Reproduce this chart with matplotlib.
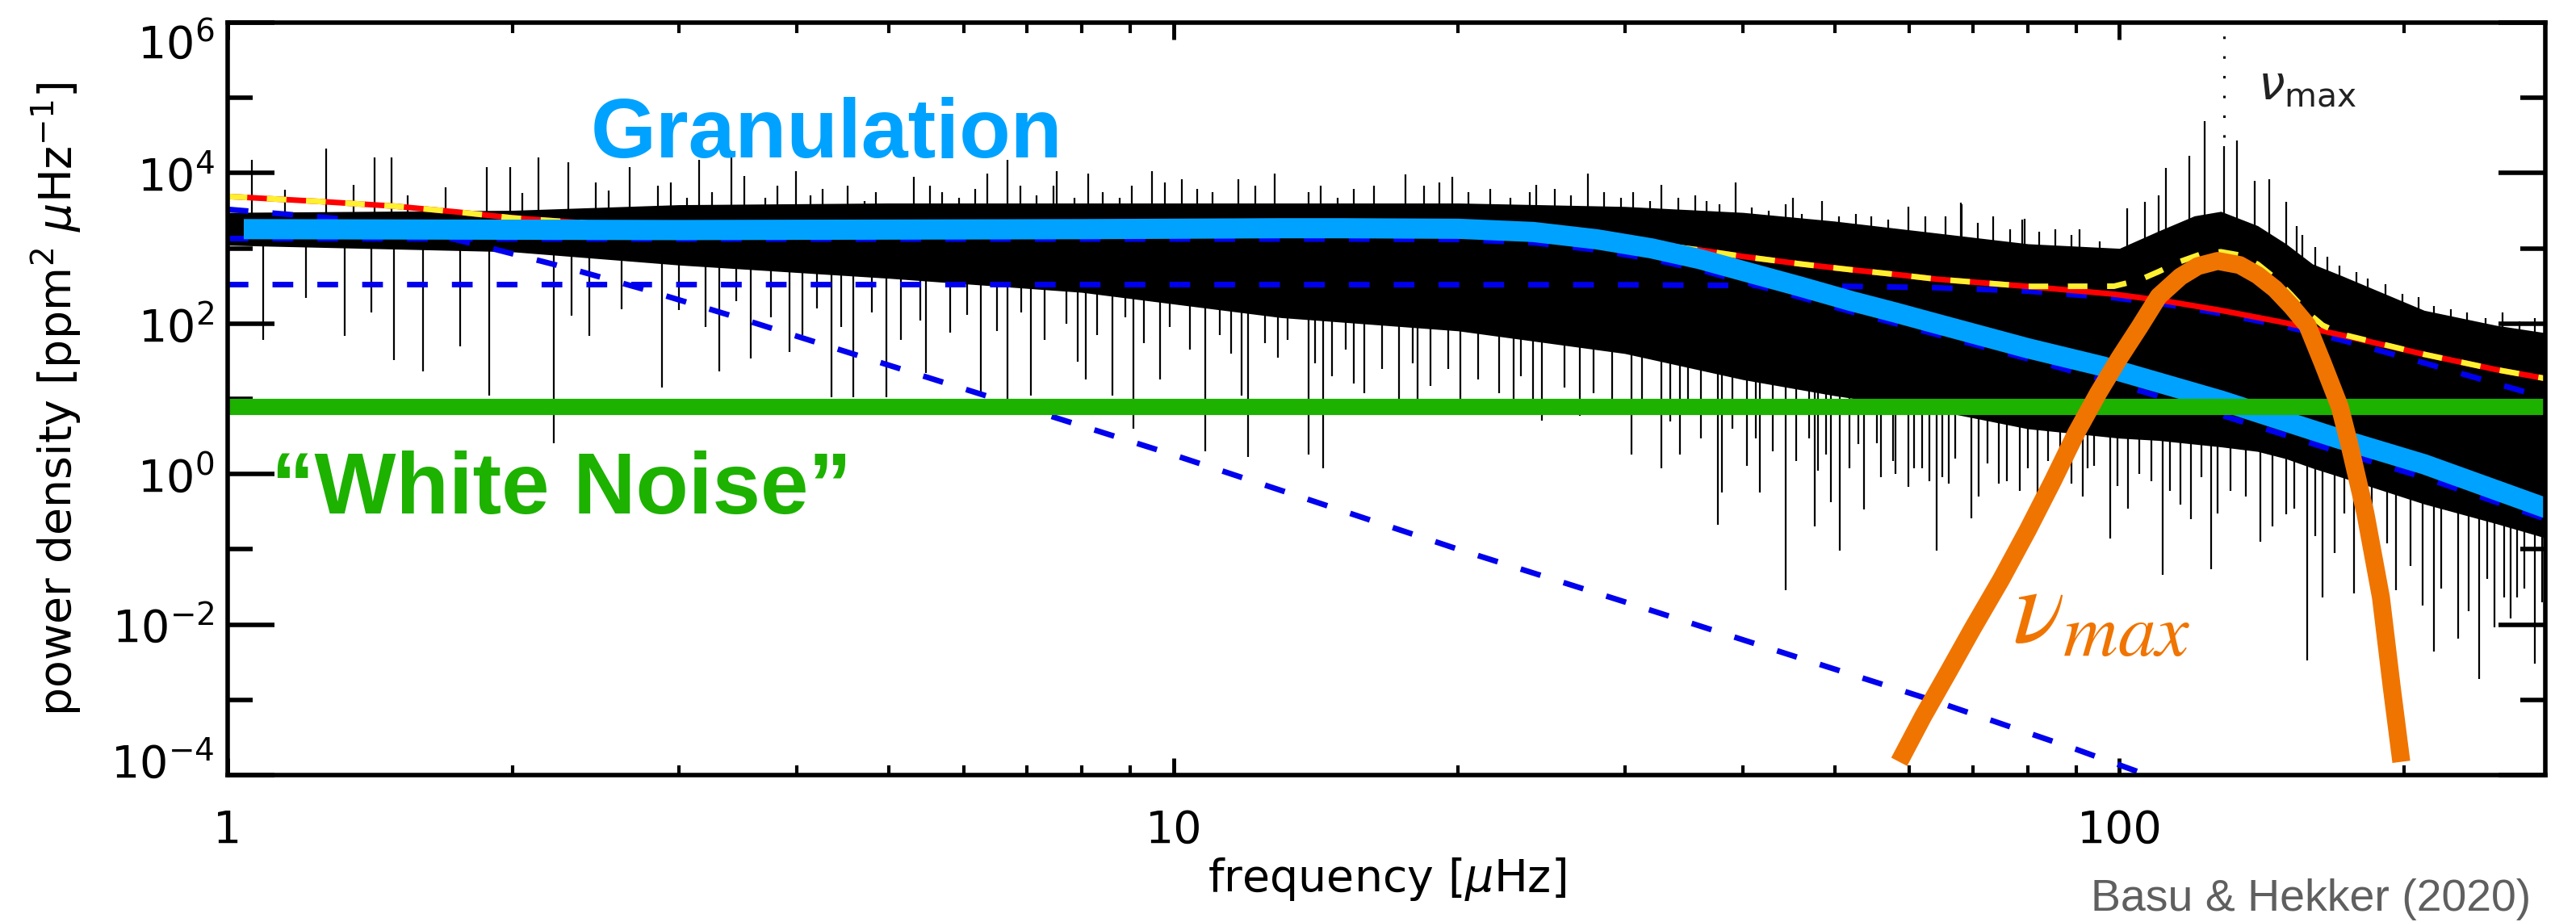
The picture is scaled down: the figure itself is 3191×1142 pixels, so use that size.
import numpy as np
import matplotlib
matplotlib.use("Agg")
import matplotlib.pyplot as plt
import matplotlib.transforms as mtransforms
from matplotlib.ticker import FixedLocator, FixedFormatter, NullFormatter

plt.rcParams['font.family'] = ['DejaVu Sans']
plt.rcParams['mathtext.fontset'] = 'dejavusans'

# ---------------- power spectrum (dense part + individual spikes) ----------------
band_nu = [1.0, 2.0, 3.0, 5.0, 8.0, 13, 20, 30, 40, 50, 64, 80, 100, 110, 120, 128, 140, 150, 160, 172, 210,
           250, 283]
band_top = [3000, 3200, 3800, 4000, 4000, 4000, 4000, 3600, 3000, 2300, 1600, 1150, 1000, 1700, 2700, 3100,
            2000, 1150, 620, 430, 150, 95, 75]
band_bot = [1100, 900, 600, 400, 260, 120, 80, 40, 18, 11, 7, 4.0, 3, 2.8, 2.5, 2.3, 2.0, 1.6, 1.2, 0.9, 0.4,
            0.22, 0.14]

down_nu = [1.09, 1.21, 1.33, 1.42, 1.50, 1.61, 1.76, 1.89, 2.21, 2.31, 2.41, 2.61,
           2.88, 3.31, 3.57, 3.93, 4.35, 4.59, 4.97, 5.47, 6.26, 6.68, 7.06, 7.92, 8.08, 8.62, 9.07, 9.68,
           10.8, 11.8, 12.0, 13.2,
           13.9, 14.4, 15.5, 18.1, 22.9, 24.5, 30.5, 32.8, 34.3, 37.6, 38.0, 40.4, 41.7, 44.4, 47.6, 48.0,
           49.5, 50.6, 53.7, 55.4, 58.0, 59.8, 60.7, 61.8, 64.1,
           66, 69.8, 74.6, 78.4, 89, 92.6, 97.7, 105, 111, 116, 125, 131, 141, 150, 158, 164, 177, 196,
           209, 215, 228, 240, 249, 255, 263, 275]
down_p = [60, 220, 69, 140, 33, 23, 50, 11, 2.6, 126, 69, 155,
          14, 23, 34, 42, 10.5, 10.5, 10.5, 22, 12.6, 10, 11, 31, 18, 11, 4.0, 18,
          2.0, 11, 1.7, 60,
          1.8, 1.2, 16, 10, 10, 5.1, 1.8, 1.2, 1.8, 0.21, 0.57, 1.3, 0.57, 0.029, 0.2, 1.1,
          0.42, 0.095, 0.34, 2.6, 1.0, 0.67, 1.2, 1.2, 0.095,
          0.74, 0.26, 0.74, 0.6, 0.74, 1.2, 0.14, 1.0, 0.046, 0.39, 0.055, 0.6, 0.126, 0.29, 0.0033, 0.023,
          0.026, 0.029,
          0.018, 0.0044, 0.0065, 0.0019, 0.0093, 0.023, 0.023, 0.003]

# shorter dips along the lower edge of the dense part
dip_nu = [3.0, 3.2, 3.45, 3.75, 4.05, 4.2, 4.45, 4.8, 5.15, 5.4, 5.8, 6.05, 6.5, 6.9, 7.3, 7.7, 8.3, 8.9, 9.3,
          9.9, 10.4, 11.2, 11.5, 12.5, 12.9,
          14.1, 14.7, 15.2, 15.9, 16.6, 17.3, 17.9, 18.7, 19.5, 20.1, 21.0, 22.1, 23.3, 24.0, 25.9, 26.9, 27.8,
          29.1, 31.3, 33.5, 35.0, 36.1, 39.0, 41.3, 43.0, 45.5, 47.0, 49.0, 51.8, 53.0, 56.0, 57.6, 63.0,
          65, 67, 71, 72.5, 76, 80, 82, 84, 86.5, 91.5, 94, 99.5, 102, 108, 113, 119, 122, 127, 136, 145, 153,
          161, 169, 173, 185, 192, 203, 219, 234, 245, 259, 268, 280]
dip_p = [150, 90, 200, 120, 70, 160, 90, 140, 60, 110, 75, 130, 80, 140, 60, 100, 70, 120, 55,
         90, 45, 70, 40, 55, 35,
         30, 20, 45, 12, 25, 9, 30, 15, 25, 10, 18, 12, 20, 8, 14, 6, 12,
         7, 9, 5, 7, 3, 4, 3, 2, 1.5, 3, 1.8, 1.2, 2.5, 0.9, 1.5, 0.8,
         0.9, 1.6, 0.5, 1.4, 0.8, 1.2, 0.5, 1.5, 0.9, 0.5, 1.3, 0.7, 0.35, 0.8, 0.6, 0.25, 0.9, 0.3, 0.5, 0.2,
         0.35, 0.15, 0.09, 0.3, 0.05, 0.12, 0.06, 0.03, 0.015, 0.04, 0.012, 0.03, 0.02]

up_nu = [1.06, 1.27, 1.43, 1.49, 1.88, 1.99, 2.13, 2.29, 2.53, 2.66, 3.15, 3.41, 3.99, 4.52, 5.31, 6.35,
         6.68, 7.53, 8.12, 9.49, 10.2, 11.7, 12.8, 17.6, 19.7, 24.2, 27.4, 32.8, 39.3, 45.2, 48.5, 59.8,
         68, 79.4, 101.9, 106.5, 110, 112, 118.6, 123, 129, 133, 139, 144, 150, 154]
up_p = [15000, 21000, 16000, 16000, 12000, 12000, 16000, 14000, 5900, 12000, 15000, 16000, 10700, 6800,
        9000, 9800, 15000, 10700, 9800, 10700, 8300, 8300, 9800, 9500, 9000, 6900, 9800, 6900, 7600, 4700,
        4300, 3600, 4000, 2500, 3400, 4100, 5100, 11700, 17000, 49000, 23000, 27000, 7900, 8300, 4100, 2000]

# shorter peaks along the upper edge of the dense part
peak_nu = [1.15, 1.36, 1.55, 1.7, 2.05, 2.45, 2.85, 2.94, 3.06, 3.25, 3.52, 3.70, 3.81, 4.13, 4.26, 4.39,
           4.71, 4.85, 5.05, 5.53, 5.69, 5.93, 6.17, 6.89, 7.17, 7.46, 7.85, 8.42, 8.77, 9.03, 9.79, 10.6,
           11.0, 12.2,
           13.9, 14.3, 14.9, 15.5, 16.3, 18.4, 19.1, 20.5, 21.6, 22.7, 23.8, 25.3, 26.3, 28.5, 29.7, 30.6,
           31.9, 34.2, 35.6, 36.6, 37.8, 40.9, 42.6, 44.4, 46.2, 50.5, 52.6, 54.7, 57.0, 62.4,
           65.5, 68.1, 70.8, 73.6, 76.7, 78.9, 82.2, 85.5, 89.0, 90.8, 95.3, 156, 161, 166, 171, 178, 183, 191,
           199, 207, 215, 224, 233, 244, 254, 265, 275]
peak_p = [6000, 7000, 5000, 6500, 5500, 7500, 6800, 7500, 4700, 5600, 9100, 4700, 6800, 5100, 6200, 3900,
          4300, 5600, 3900, 6800, 5600, 4700, 6200, 6800, 5100, 6800, 4700, 5600, 4700, 6800, 7500, 6200,
          5600, 6800,
          5600, 6800, 4700, 6200, 6800, 6800, 7500, 5600, 6200, 4700, 5600, 6200, 5100, 5600, 4700, 5600,
          4300, 4700, 5100, 4300, 3900, 3500, 3200, 3900, 2900, 2650, 2900, 2650, 2400, 2650,
          2650, 3900, 2200, 2650, 1800, 2400, 1650, 1800, 1500, 1800, 1240, 1500, 1030, 780, 590, 480, 400,
          330, 250, 225, 170, 155, 140, 117, 140, 107, 117]

# ---------------- background fit components ----------------
low_nu = [1.0, 1.3, 1.6, 1.9, 2.3, 2.77, 3.5, 5, 7, 10, 13.3, 20, 30, 45, 64, 90, 107, 115]
low_p = [3300, 2500, 1700, 1000, 540, 280, 115, 28, 7.4, 1.8, 0.55, 0.1, 0.02, 3.9e-3, 9.5e-4, 2.2e-4,
         1.0e-4, 7.5e-5]

gran1_nu = [1.0, 3, 8, 13, 15, 20, 24, 28, 32, 36, 40, 46, 52, 58, 64, 80, 96, 128, 170, 210, 283]
gran1_p = [1350, 1330, 1330, 1330, 1330, 1310, 1190, 950, 720, 520, 360, 223, 144, 100, 72, 34, 18, 6.1,
           2.0, 0.9, 0.25]

gran2_nu = [1, 10, 30, 50, 64, 80, 98.7, 112, 128, 150, 172, 210, 250, 283]
gran2_p = [330, 330, 328, 315, 300, 270, 220, 180, 136, 91, 60, 30, 16, 10.2]

bg_nu = [1.0, 1.25, 1.5, 1.75, 2.0, 2.4, 2.77, 3.5, 4, 6, 10, 20, 24, 28, 32, 36, 40, 46, 52, 58, 64, 80,
         98.7, 112, 128, 150, 172, 210, 250, 283]
bg_p = [4900, 4200, 3640, 3040, 2540, 2160, 2050, 1800, 1760, 1700, 1680, 1650, 1580, 1400, 1150, 950, 780,
        620, 520, 450, 390, 312, 246, 199, 150, 102, 70, 39, 24.5, 18.5]

full_nu = [1.0, 1.25, 1.5, 1.75, 2.0, 2.4, 2.77, 3.5, 4, 6, 10, 20, 24, 28, 32, 36, 40, 46, 52, 58, 64, 80,
           98.7, 105, 110, 116, 122, 128, 134, 140, 146, 152, 158, 164, 172, 210, 250, 283]
full_p = [4900, 4200, 3640, 3040, 2540, 2160, 2050, 1800, 1760, 1700, 1680, 1650, 1580, 1400, 1150, 950, 780,
          620, 520, 450, 390, 312, 314, 380, 490, 670, 840, 900, 813, 616, 404, 240, 141, 95, 72, 39, 24.5, 18.5]

# ---------------- highlighted pieces ----------------
granulation_nu = [1.04, 3, 8, 13, 15, 20, 24, 28, 32, 36, 40, 46, 52, 58, 64, 80, 96, 128, 170, 210, 283]
granulation_p = [1800, 1750, 1800, 1850, 1850, 1820, 1650, 1320, 1000, 720, 500, 310, 200, 140, 100, 47, 27,
                 9.5, 3.0, 1.35, 0.35]

white_noise = 7.8

envelope_nu = [58.5, 62, 66, 70, 75, 80, 85, 90, 95, 100, 105, 110, 116, 121, 127, 134, 140, 146, 152, 158,
               164, 171, 175, 182, 189, 194, 198.6]
envelope_p = [1.5e-4, 6e-4, 2.4e-3, 0.009, 0.04, 0.18, 0.8, 3.5, 12, 35, 90, 230, 420, 580, 680, 600, 440,
              290, 170, 95, 30, 7.8, 2.5, 0.3, 0.023, 1.5e-3, 1.5e-4]

numax = 129

ytick_vals = [1e-4, 1e-2, 1e0, 1e2, 1e4, 1e6]
ytick_labels = ['$10^{-4}$', '$10^{-2}$', '$10^{0}$', '$10^{2}$', '$10^{4}$', '$10^{6}$']
yminor_vals = [1e-3, 1e-1, 1e1, 1e3, 1e5]
xtick_vals = [1, 10, 100]
xtick_labels = ['1', '10', '100']
xminor_vals = [2, 3, 4, 5, 6, 7, 8, 9, 20, 30, 40, 50, 60, 70, 80, 90, 200]


def band_at(nu, vals):
    return 10 ** np.interp(np.log10(nu), np.log10(band_nu), np.log10(vals))


W, H = 3191, 1142
fig = plt.figure(figsize=(W / 100, H / 100), dpi=100)
ax = fig.add_axes([282 / W, 1 - 960 / H, (3153 - 282) / W, (960 - 28) / H])
ax.set_xscale('log')
ax.set_yscale('log')
ax.set_xlim(1, 282)
ax.set_ylim(1e-4, 1e6)

# spectrum
ax.fill_between(band_nu, band_bot, band_top, color='black', lw=0, zorder=1)
lows_nu = np.array(down_nu + dip_nu)
lows_p = down_p + dip_p
highs_nu = np.array(up_nu + peak_nu)
highs_p = up_p + peak_p
ax.vlines(lows_nu, lows_p, band_at(lows_nu, band_bot) * 1.5, color='black', lw=1.6, zorder=1)
ax.vlines(highs_nu, band_at(highs_nu, band_top) / 1.5, highs_p, color='black', lw=1.6, zorder=1)

# fit components
ax.plot(low_nu, low_p, color='#0000EE', lw=5, dashes=(3.7, 4.3), zorder=3)
ax.plot(gran1_nu, gran1_p, color='#0000EE', lw=5, dashes=(3.7, 4.3), zorder=3)
ax.plot(gran2_nu, gran2_p, color='#0000EE', lw=5, dashes=(3.7, 4.3), zorder=3)
ax.plot(bg_nu, bg_p, color='#FF0000', lw=5, zorder=4)
ax.plot(full_nu, full_p, color='#FFF030', lw=5, dashes=(3.5, 3.5), zorder=4)

# numax marker
ax.plot([numax, numax], [3e4, 1e6], color='black', lw=2.2, dashes=(1, 7), zorder=3)

# highlights
ax.plot(granulation_nu, granulation_p, color='#00A2FF', lw=18, solid_capstyle='butt', zorder=5)
ax.axhline(white_noise, color='#1DB100', lw=14.5, solid_capstyle='butt', zorder=6)
ax.plot(envelope_nu, envelope_p, color='#F07400', lw=16, solid_capstyle='butt', zorder=7)

# axes styling
for sp in ax.spines.values():
    sp.set_linewidth(4)
    sp.set_zorder(10)
ax.yaxis.set_major_locator(FixedLocator(ytick_vals))
ax.yaxis.set_major_formatter(FixedFormatter(ytick_labels))
ax.yaxis.set_minor_locator(FixedLocator(yminor_vals))
ax.yaxis.set_minor_formatter(NullFormatter())
ax.xaxis.set_major_locator(FixedLocator(xtick_vals))
ax.xaxis.set_major_formatter(FixedFormatter(xtick_labels))
ax.xaxis.set_minor_locator(FixedLocator(xminor_vals))
ax.xaxis.set_minor_formatter(NullFormatter())
ax.tick_params(which='both', direction='in', top=True, right=True, colors='black', labelsize=40)
ax.tick_params(axis='y', which='major', length=42, width=4, pad=12)
ax.tick_params(axis='y', which='minor', length=22, width=4)
ax.tick_params(axis='x', which='major', length=15, width=3.5, pad=30)
ax.tick_params(axis='x', which='minor', length=9, width=3)

# end labels sit just inside the frame
yticks = ax.yaxis.get_major_ticks()
yticks[0].label1.set_transform(yticks[0].label1.get_transform()
                               + mtransforms.ScaledTranslation(0, 0.19, fig.dpi_scale_trans))
yticks[-1].label1.set_transform(yticks[-1].label1.get_transform()
                                + mtransforms.ScaledTranslation(0, -0.22, fig.dpi_scale_trans))

ax.set_xlabel(r'frequency [$\mu$Hz]', fontsize=40, labelpad=3)
ax.set_ylabel(r'power density [ppm$^2$ $\mu$Hz$^{-1}$]', fontsize=40)
ax.yaxis.set_label_coords(-0.062, 0.5)

# annotations
fig.text(2797 / W, 1 - 123 / H, r'$\nu_{\rm max}$', fontsize=42, color='#222222', va='baseline')
fig.text(732 / W, 1 - 195 / H, 'Granulation', color='#00A2FF', fontsize=75, fontweight='bold',
         family='Liberation Sans', va='baseline')
fig.text(336 / W, 1 - 636 / H, '\u201cWhite Noise\u201d', color='#1DB100', fontsize=77, fontweight='bold',
         family='Liberation Sans', va='baseline')
fig.text(2493 / W, 1 - 795 / H, r'$\nu_{max}$', color='#F07400', fontsize=96, math_fontfamily='stix',
         va='baseline')
fig.text(2590 / W, 1 - 1128 / H, 'Basu & Hekker (2020)', color='#5F5F5F', fontsize=40,
         family='Liberation Sans', va='baseline')

fig.savefig('out.png', dpi=100)
